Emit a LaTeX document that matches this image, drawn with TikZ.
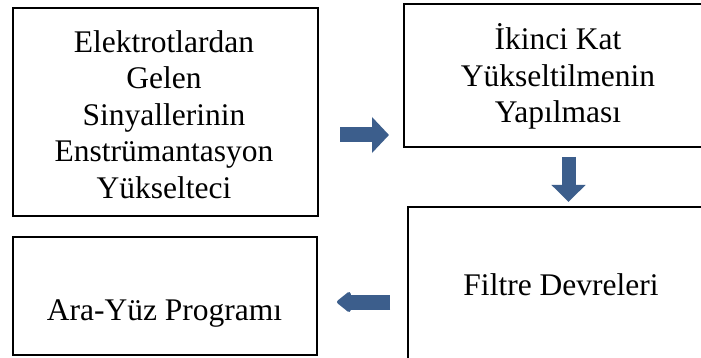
\documentclass[tikz,border=0pt]{standalone}
\usepackage{fontspec}
\setmainfont{Liberation Serif}
\usetikzlibrary{arrows.meta}
\definecolor{arrowblue}{RGB}{60,94,140}
\begin{document}
\begin{tikzpicture}[x=1pt,y=-1pt,
  box/.style={draw=black,line width=1.6pt,rectangle,inner sep=0pt,outer sep=0pt},
  txt/.style={align=center,inner sep=0pt,outer sep=0pt,font=\fontsize{31.5}{36.5}\selectfont},
  blockarrow/.style={draw=arrowblue,line width=15pt,
     -{Triangle[length=17pt,width=35pt]}}]
\useasboundingbox (0,0) rectangle (701,358);
\clip (0,0) rectangle (701,358);
\fill[white] (0,0) rectangle (701,358);
% boxes
\node[box,minimum width=305pt,minimum height=208pt] (b1) at (165.5,112) {};
\node[box,minimum width=308pt,minimum height=143pt] (b2) at (558,75.5) {};
\node[box,minimum width=306pt,minimum height=153pt] (b3) at (561,283.5) {};
\node[box,minimum width=304pt,minimum height=118pt] (b4) at (165,296) {};
% texts
\node[txt] (t1) at (164,114.3) {Elektrotlardan\\Gelen\\Sinyallerinin\\Enstrümantasyon\\Yükselteci};
\node[txt] (t2) at (558,76.4) {İkinci Kat\\Yükseltilmenin\\Yapılması};
\node[txt,anchor=base] (t3) at (561,295) {Filtre Devreleri};
\node[txt,anchor=base] (t4) at (164.5,320) {Ara-Yüz Programı};
% arrows
\coordinate (ra) at ([yshift=-23pt]b1.east);
\draw[blockarrow] (ra) ++(22,0) -- ([xshift=-15pt]ra -| b2.west);
\coordinate (da) at ([xshift=10.5pt]b2.south);
\draw[blockarrow,-{Triangle[length=17pt,width=33pt]},line width=14pt] ([yshift=-10pt]da) -- ([yshift=5pt]da |- b3.north);
\coordinate (la) at ([yshift=-6pt]b4.east);
\draw[blockarrow,-{Triangle[length=15pt,width=23pt,round]},line width=15pt,rounded corners=2pt] ([xshift=-18pt]la -| b3.west) -- ([xshift=20pt]la);
\end{tikzpicture}
\end{document}
